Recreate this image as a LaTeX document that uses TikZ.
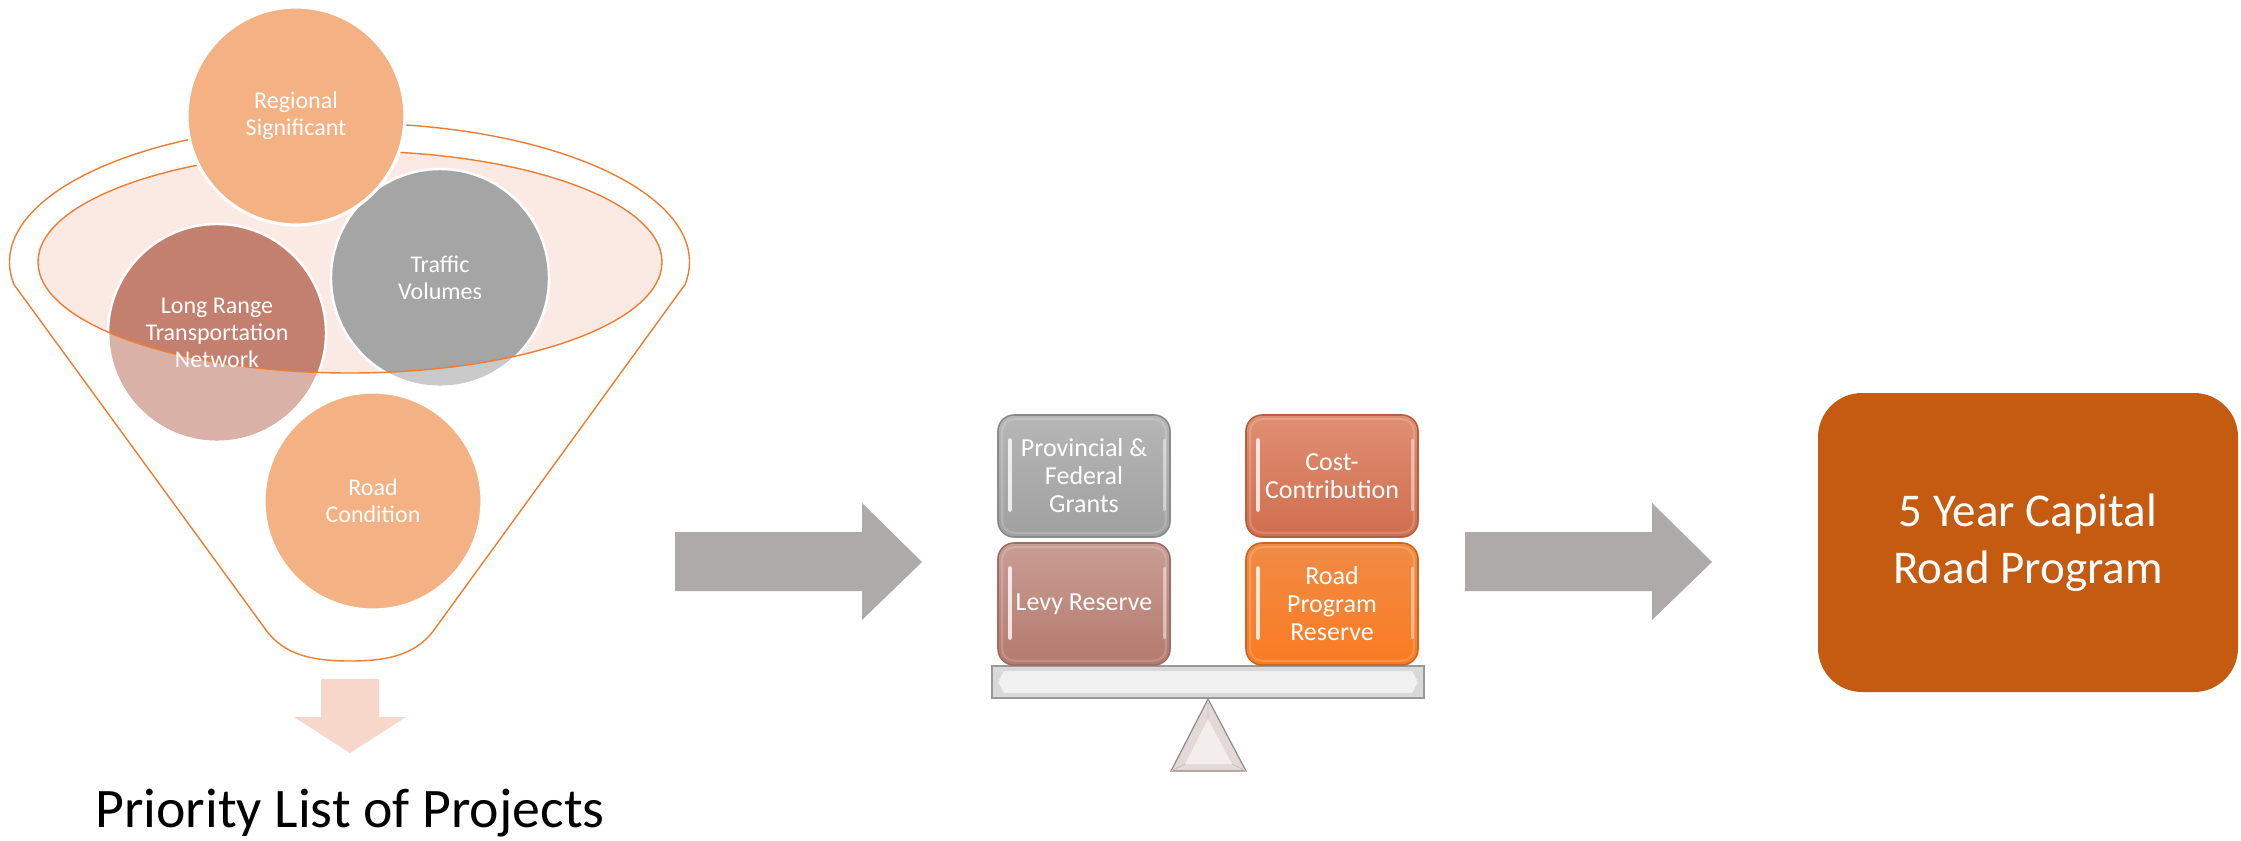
\documentclass[tikz,border=0pt]{standalone}
\usepackage{fontspec}
\setmainfont{Carlito}
\definecolor{funnelorange}{HTML}{ED7D31}
\definecolor{ellfill}{HTML}{FBE9E4}
\definecolor{peach}{HTML}{F4B183}
\definecolor{lrdark}{HTML}{C3806F}
\definecolor{lrlight}{HTML}{DAB1A6}
\definecolor{tvdark}{HTML}{A5A5A5}
\definecolor{tvlight}{HTML}{C9C9C9}
\definecolor{arrowgray}{HTML}{AEAAAA}
\definecolor{pinkarrow}{HTML}{F8D7CB}
\definecolor{capital}{HTML}{C55A11}
\definecolor{gtop}{HTML}{B6B6B6}\definecolor{gbot}{HTML}{A0A0A0}\definecolor{gedge}{HTML}{8A8A8A}
\definecolor{ltop}{HTML}{C99D94}\definecolor{lbot}{HTML}{B47A6E}\definecolor{ledge}{HTML}{9C6E65}
\definecolor{ctop}{HTML}{E08E72}\definecolor{cbot}{HTML}{D06E4F}\definecolor{cedge}{HTML}{B5603F}
\definecolor{rtop}{HTML}{F08B45}\definecolor{rbot}{HTML}{FA7B22}\definecolor{redge}{HTML}{D0651C}
\definecolor{trifill}{HTML}{E3D9D7}
\definecolor{triinner}{HTML}{F3EDEC}
\definecolor{trifacet}{HTML}{C8BEBC}
\begin{document}
\begin{tikzpicture}[x=0.5pt,y=-0.5pt,
  circnode/.style={circle, minimum size=109pt, inner sep=0pt, draw=white, line width=1.2pt},
  ctext/.style={text=white, align=center, inner sep=0pt, font=\fontsize{12}{13.5}\selectfont},
  fundbox/.style={rounded corners=8pt, minimum width=86pt, minimum height=61pt, inner sep=0pt,
    line width=0.8pt, text=white, align=center, font=\fontsize{13}{14}\selectfont},
  blockarrow/.style={fill=arrowgray, draw=none}
]
\useasboundingbox (0,0) rectangle (2241,840);

% ---------- funnel ----------
\draw[funnelorange, line width=0.7pt]
  (685,284.5) arc[start angle=-9.3, end angle=189.3, x radius=170pt, y radius=69.5pt]
  -- (266,630) .. controls (285,656) and (315,661) .. (350,661)
  .. controls (385,661) and (415,656) .. (434,630) -- cycle;
\fill[ellfill] (350,262) ellipse [x radius=156pt, y radius=55.5pt];

% Long Range and Traffic circles (darker inside the rim)
\node[circnode, fill=lrlight] (lr) at (217,333) {};
\node[circnode, fill=tvlight] (tv) at (440,278) {};
\begin{scope}
  \clip (350,262) ellipse [x radius=156pt, y radius=55.5pt];
  \fill[lrdark] (lr.center) circle[radius=54.5pt];
  \fill[tvdark] (tv.center) circle[radius=54.5pt];
\end{scope}
\draw[white, line width=1.2pt] (lr.center) circle[radius=54.5pt];
\draw[white, line width=1.2pt] (tv.center) circle[radius=54.5pt];
\draw[funnelorange, line width=0.7pt] (350,262) ellipse [x radius=156pt, y radius=55.5pt];

\node[circnode, fill=peach, line width=1.6pt] (rs) at (296,116) {};
\node[circnode, fill=peach, line width=1.6pt] (rc) at (373,501) {};

\node[ctext] (rstext) at (rs) {Regional\\Significant};
\node[ctext] (tvtext) at (tv) {Traffic\\Volumes};
\node[ctext] (lrtext) at (lr) {Long Range\\Transportation\\Network};
\node[ctext] (rctext) at (rc) {Road\\Condition};

% ---------- down arrow and caption ----------
\fill[pinkarrow] (321,679) -- (379,679) -- (379,717) -- (406,717) -- (350,753) -- (294,717) -- (321,717) -- cycle;
\node[anchor=base, inner sep=0pt, font=\fontsize{27.9}{32}\selectfont] (plist) at (350,827) {Priority List of Projects};

% ---------- gray arrows ----------
\fill[blockarrow] (675,532) -- (862,532) -- (862,503) -- (922,562) -- (862,620) -- (862,591) -- (675,591) -- cycle;
\fill[blockarrow] (1465,532) -- (1652,532) -- (1652,503) -- (1712,562) -- (1652,620) -- (1652,591) -- (1465,591) -- cycle;

% ---------- balance ----------
\node[draw=gray!80, fill=gray!30, line width=0.6pt, minimum width=216pt, minimum height=16pt, inner sep=0pt] (beam) at (1208,682) {};
\fill[gray!12] (1004,671) -- (1412,671) -- (1418,682) -- (1412,693) -- (1004,693) -- (998,682) -- cycle;
\draw[gray!80, line width=0.6pt] (beam.north west) rectangle (beam.south east);

\filldraw[fill=trifill, draw=gray!90, line width=0.6pt]
  (1208,699) -- (1246,771) -- (1171,771) -- cycle;
\fill[triinner] (1208,719) -- (1232,764) -- (1185,764) -- cycle;
\draw[trifacet, line width=0.4pt]
  (1208,699) -- (1208,719) (1246,771) -- (1232,764) (1171,771) -- (1185,764);

% ---------- fund boxes ----------
\node[fundbox, top color=gtop, bottom color=gbot, draw=gedge] (pf) at (1084,476) {};
\node[fundbox, top color=ltop, bottom color=lbot, draw=ledge] (lv) at (1084,604) {};
\node[fundbox, top color=ctop, bottom color=cbot, draw=cedge] (cc) at (1332,476) {};
\node[fundbox, top color=rtop, bottom color=rbot, draw=redge] (rp) at (1332,604) {};
\foreach \b in {pf,lv,cc,rp}{
  \draw[white, opacity=0.18, line width=1pt, rounded corners=6pt]
    ([shift={(2.5pt,-2.5pt)}]\b.north west) rectangle ([shift={(-2.5pt,2.5pt)}]\b.south east);
  \draw[white, opacity=0.8, line width=2pt, line cap=round]
    ([shift={(6.5pt,-13pt)}]\b.north west) -- ([shift={(6.5pt,14pt)}]\b.south west);
  \draw[white, opacity=0.45, line width=1.5pt, line cap=round]
    ([shift={(-3pt,-13pt)}]\b.north east) -- ([shift={(-3pt,14pt)}]\b.south east);
}
\node[fundbox, draw=none] (pftext) at (pf) {Provincial \&\\Federal\\Grants};
\node[fundbox, draw=none] (lvtext) at (lv) {Levy Reserve};
\node[fundbox, draw=none] (cctext) at (cc) {Cost-\\Contribution};
\node[fundbox, draw=none] (rptext) at (rp) {Road\\Program\\Reserve};

% ---------- result ----------
\node[fill=capital, rounded corners=22pt, minimum width=210pt, minimum height=149.5pt,
  text=white, align=center, font=\fontsize{23.5}{28.5}\selectfont] (fyr) at (2028,542.5)
  {5 Year Capital\\Road Program};
\end{tikzpicture}
\end{document}
